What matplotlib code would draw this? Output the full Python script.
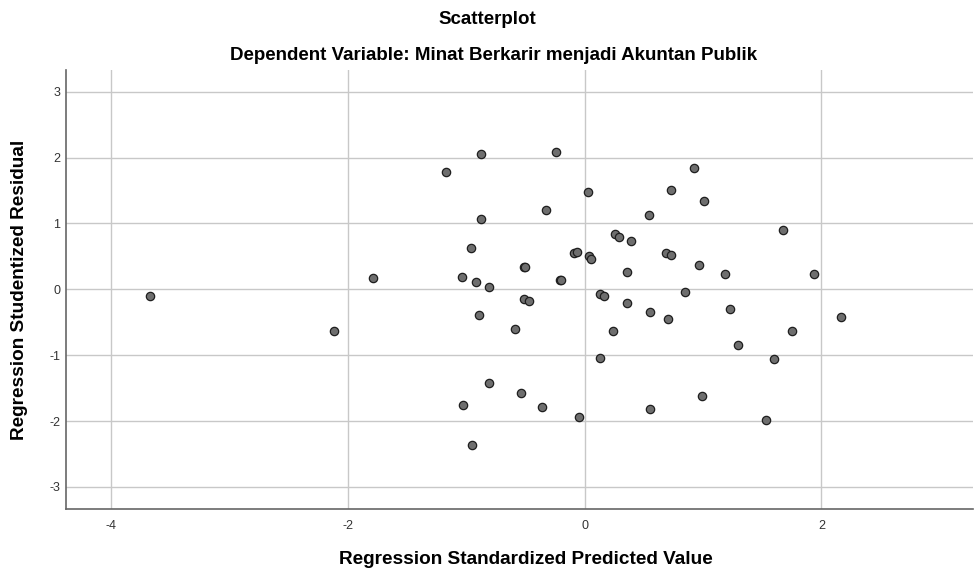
import numpy as np
import matplotlib
matplotlib.use("Agg")
import matplotlib.pyplot as plt

# === DATA ===
pred_std = [
    -3.667, -2.116, -1.784, -0.872, -0.241, -1.170, 0.027, 0.728, -0.323, -0.872,
    0.547, 0.255, 0.289, 0.395, -0.959, -0.086, -0.063, 0.035, 0.057, 0.688,
    0.731, -0.508, -0.500, 0.359, -1.032, -0.919, -0.804, -0.207, -0.200, 0.128,
    0.165, -0.508, -0.469, 0.356, 0.553, 0.705, -0.889, -0.590, 0.238, 0.128,
    -0.804, -0.539, -1.029, -0.356, -0.046, 0.553, -0.948, 0.922, 1.009, 1.674,
    0.970, 1.187, 1.938, 0.851, 1.231, 2.166, 1.750, 1.294, 1.601, 0.992, 1.533,
]
resid_stud = [
    -0.097, -0.633, 0.176, 2.050, 2.083, 1.775, 1.472, 1.502, 1.203, 1.062,
    1.123, 0.835, 0.794, 0.728, 0.622, 0.551, 0.561, 0.505, 0.455, 0.546,
    0.525, 0.334, 0.334, 0.263, 0.182, 0.111, 0.040, 0.136, 0.140, -0.071,
    -0.097, -0.152, -0.178, -0.213, -0.344, -0.451, -0.395, -0.598, -0.638, -1.038,
    -1.417, -1.578, -1.756, -1.781, -1.942, -1.816, -2.367, 1.845, 1.335, 0.895,
    0.373, 0.228, 0.237, -0.046, -0.299, -0.415, -0.638, -0.850, -1.053, -1.614, -1.988,
]
x_ticks = [-4, -2, 0, 2]
y_ticks = [-3, -2, -1, 0, 1, 2, 3]

plt.rcParams['font.family'] = ['Liberation Sans', 'DejaVu Sans']
plt.rcParams['axes.unicode_minus'] = False

# === PLOT ===
fig = plt.figure(figsize=(9.74, 5.72), dpi=100)
ax = fig.add_axes([0.0675, 0.1096, 0.9315, 0.768])

ax.scatter(pred_std, resid_stud, s=36, facecolor='#6e6e6e', edgecolor='#1e1e1e',
           linewidth=0.9, zorder=3)

ax.set_xlim(-4.38, 3.28)
ax.set_ylim(-3.34, 3.33)
ax.set_xticks(x_ticks)
ax.set_yticks(y_ticks)
ax.grid(True, color='#c8c8c8', linewidth=1.0, zorder=0)
ax.set_axisbelow(True)
ax.tick_params(length=0, labelsize=9, colors='#333333')
ax.tick_params(axis='y', pad=4)
ax.tick_params(axis='x', pad=8)

for side in ['top', 'right']:
    ax.spines[side].set_visible(False)
for side in ['left', 'bottom']:
    ax.spines[side].set_color('#666666')
    ax.spines[side].set_linewidth(1.2)

# axis titles
fig.text(0.540, 0.0147, 'Regression Standardized Predicted Value', ha='center',
         va='baseline', fontsize=13.7, fontweight='bold')
fig.text(20 / 974, 0.493, 'Regression Studentized Residual', ha='center',
         va='center', rotation=90, fontsize=13.7, fontweight='bold')

# chart titles
fig.text(0.500, 0.9575, 'Scatterplot', ha='center', va='baseline', fontsize=13.5,
         fontweight='bold')
fig.text(0.507, 0.8951, 'Dependent Variable: Minat Berkarir menjadi Akuntan Publik',
         ha='center', va='baseline', fontsize=13.5, fontweight='bold')

plt.savefig('out.png', dpi=100)
